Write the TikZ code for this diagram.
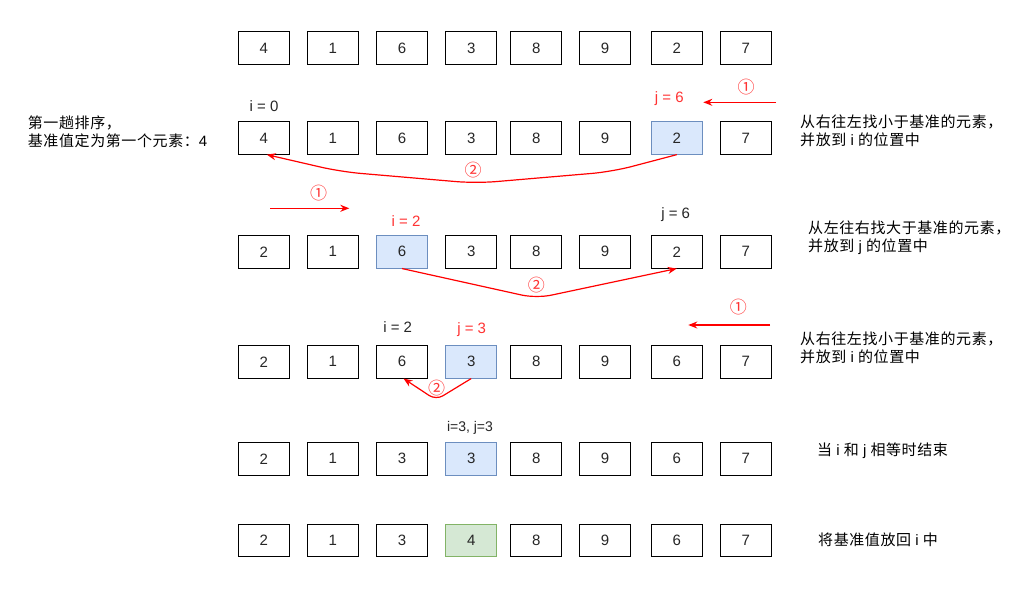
\documentclass[tikz,border=0pt]{standalone}
\usepackage{fontspec}
\setmainfont{Liberation Sans}
\newfontfamily\cjk[LetterSpace=4]{Noto Sans CJK SC}
\newfontfamily\cjknum{Noto Sans CJK SC}
\usetikzlibrary{arrows.meta}
\definecolor{bluefill}{HTML}{DAE8FC}
\definecolor{blueline}{HTML}{6C8EBF}
\definecolor{greenfill}{HTML}{D5E8D4}
\definecolor{greenline}{HTML}{82B366}
\definecolor{redline}{HTML}{FF0000}
\definecolor{redtext}{HTML}{FF3333}
\tikzset{
 cell/.style={draw=black, line width=1pt, minimum width=51pt, minimum height=32.5pt, inner sep=0pt, font=\fontsize{15}{18}\selectfont, text=black!85},
 bluecell/.style={cell, fill=bluefill, draw=blueline},
 greencell/.style={cell, fill=greenfill, draw=greenline},
 lab/.style={inner sep=0pt, text=black!85, font=\fontsize{15}{18}\selectfont},
 redlab/.style={lab, text=redtext},
 circ/.style={inner sep=0pt, text=redtext, font=\cjknum\fontsize{17}{17}\selectfont},
 note/.style={inner sep=0pt, anchor=west, align=left, font=\fontsize{15}{18}\selectfont},
 redarrow/.style={draw=redline, line width=1.2pt, -{Stealth[length=9pt,width=7pt]}},
}
\begin{document}
\begin{tikzpicture}[x=1pt,y=-1pt]
\path[use as bounding box, fill=white] (0,0) rectangle (1029,603);
% rows of cells
\foreach \v/\s [count=\c] in {4/cell,1/cell,6/cell,3/cell,8/cell,9/cell,2/cell,7/cell}{
  \pgfmathsetmacro\xx{{263.8,332.8,402,471.2,536.2,605,676.8,745.8}[\c-1]}
  \node[\s] (r1c\c) at (\xx,47.9) {\v};}
\foreach \v/\s [count=\c] in {4/cell,1/cell,6/cell,3/cell,8/cell,9/cell,2/bluecell,7/cell}{
  \pgfmathsetmacro\xx{{263.8,332.8,402,471.2,536.2,605,676.8,745.8}[\c-1]}
  \node[\s] (r2c\c) at (\xx,137.9) {\v};}
\foreach \v/\s [count=\c] in {2/cell,1/cell,6/bluecell,3/cell,8/cell,9/cell,2/cell,7/cell}{
  \pgfmathsetmacro\xx{{263.8,332.8,402,471.2,536.2,605,676.8,745.8}[\c-1]}
  \node[\s] (r3c\c) at (\xx,251.8) {\v};}
\foreach \v/\s [count=\c] in {2/cell,1/cell,6/cell,3/bluecell,8/cell,9/cell,6/cell,7/cell}{
  \pgfmathsetmacro\xx{{263.8,332.8,402,471.2,536.2,605,676.8,745.8}[\c-1]}
  \node[\s] (r4c\c) at (\xx,361.8) {\v};}
\foreach \v/\s [count=\c] in {2/cell,1/cell,3/cell,3/bluecell,8/cell,9/cell,6/cell,7/cell}{
  \pgfmathsetmacro\xx{{263.8,332.8,402,471.2,536.2,605,676.8,745.8}[\c-1]}
  \node[\s] (r5c\c) at (\xx,458.8) {\v};}
\foreach \v/\s [count=\c] in {2/cell,1/cell,3/cell,4/greencell,8/cell,9/cell,6/cell,7/cell}{
  \pgfmathsetmacro\xx{{263.8,332.8,402,471.2,536.2,605,676.8,745.8}[\c-1]}
  \node[\s] (r6c\c) at (\xx,540.7) {\v};}

% labels
\node[lab] (i0) at (264,105.7) {i = 0};
\node[redlab] (j6a) at (669.3,99) {j = 6};
\node[redlab] (i2a) at (406,220.7) {i = 2};
\node[lab] (j6b) at (675.7,215) {j = 6};
\node[lab] (i2b) at (397.7,326.7) {i = 2};
\node[redlab] (j3) at (471.7,329.3) {j = 3};
\node[lab, font=\fontsize{14}{16}\selectfont] (ij) at (470,428) {i=3, j=3};

% step 1 arrows
\coordinate (a1s) at (776,102.3);
\coordinate (a1e) at (703.3,102.3);
\draw[redarrow] (a1s) -- (a1e);
\node[circ] (n1a) at (746,86.7) {①};
\coordinate (a2s) at (270,208.3);
\coordinate (a2e) at (349.3,208.3);
\draw[redarrow] (a2s) -- (a2e);
\node[circ] (n1b) at (318.5,193) {①};
\coordinate (a3s) at (770,325);
\coordinate (a3e) at (688.3,325);
\draw[redarrow] (a3s) -- (a3e);
\node[circ] (n1c) at (738.3,307.3) {①};

% step 2 curves
\coordinate (m1) at (612,171.7);
\coordinate (m2) at (476,183.3);
\coordinate (m3) at (340.7,171.7);
\draw[redarrow, rounded corners=20pt] (r2c7.south) -- (m1) -- (m2) -- (m3) -- ([xshift=3pt]r2c1.south);
\node[circ] (n2a) at (473,170) {②};
\coordinate (m4) at (536.4,298.3);
\draw[redarrow, rounded corners=15pt] (r3c3.south) -- (m4) -- (r3c7.south);
\node[circ] (n2b) at (536.4,285) {②};
\coordinate (m5) at (436,400);
\draw[redarrow, rounded corners=8pt] (r4c4.south) -- (m5) -- ([xshift=1.5pt]r4c3.south);
\node[circ] (n2c) at (436.7,388.3) {②};

% notes
\node[note] (t0) at (27.7,132) {{\cjk 第一趟排序，}\\{\cjk 基准值定为第一个元素：}4};
\node[note] (t1) at (800,131) {{\cjk 从右往左找小于基准的元素，}\\{\cjk 并放到} i {\cjk 的位置中}};
\node[note] (t2) at (808,238) {{\cjk 从左往右找大于基准的元素，}\\{\cjk 并放到} j {\cjk 的位置中}};
\node[note] (t3) at (800,348) {{\cjk 从右往左找小于基准的元素，}\\{\cjk 并放到} i {\cjk 的位置中}};
\node[note] (t4) at (817,451) {{\cjk 当} i {\cjk 和} j {\cjk 相等时结束}};
\node[note] (t5) at (818,540) {{\cjk 将基准值放回} i {\cjk 中}};
\end{tikzpicture}
\end{document}
